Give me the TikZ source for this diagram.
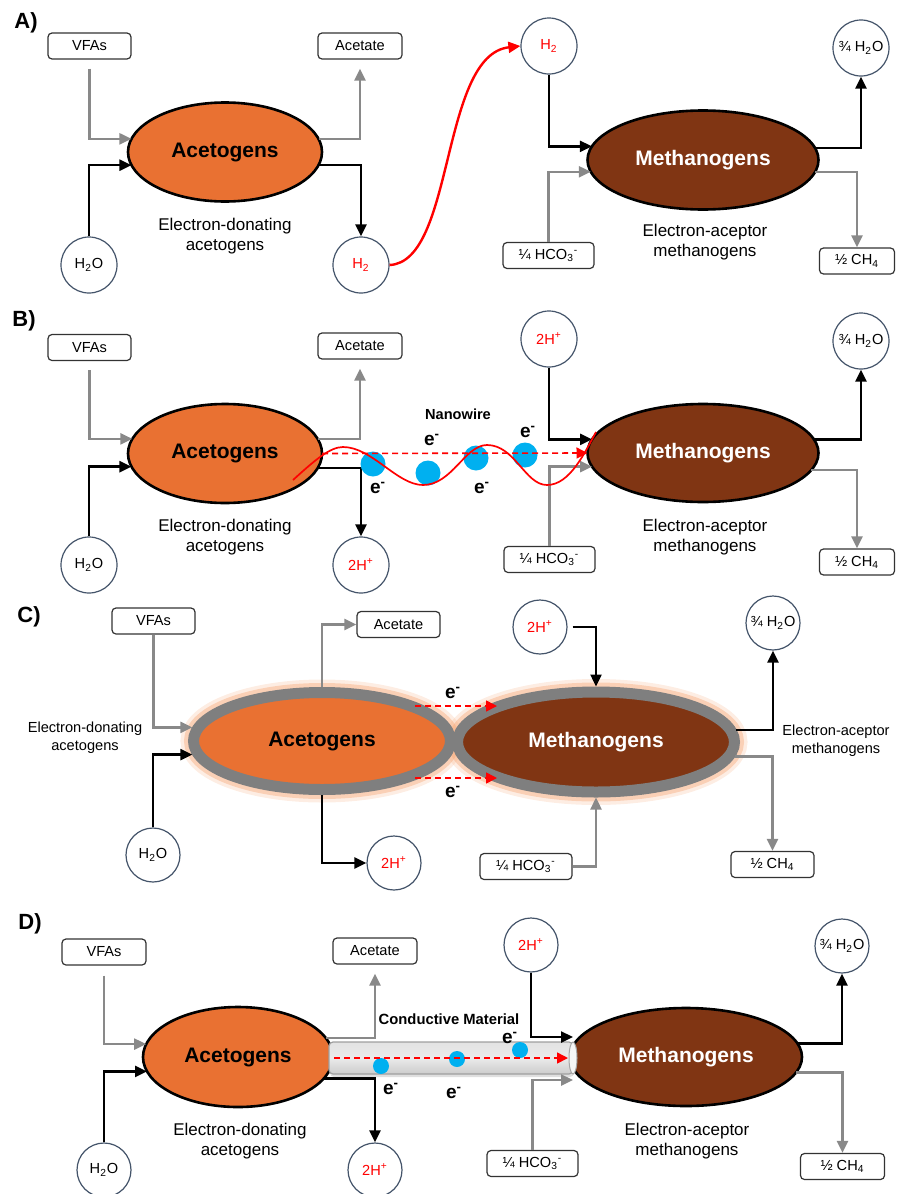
\documentclass[tikz,border=0pt]{standalone}
\usepackage{fontspec}
\setmainfont{Liberation Sans}
\usetikzlibrary{shapes.geometric,arrows.meta,calc,shadows}
\definecolor{acor}{RGB}{233,113,50}
\definecolor{mebr}{RGB}{128,53,19}
\definecolor{garr}{RGB}{137,137,137}
\definecolor{slate}{RGB}{68,84,106}
\definecolor{ecyan}{RGB}{0,176,240}
\definecolor{glowc}{RGB}{246,165,115}
\definecolor{ringc}{RGB}{127,127,127}
\tikzset{
 lbox/.style={draw=black!80, line width=0.6pt, rounded corners=2pt, minimum height=13pt, inner sep=0pt, font=\fontsize{7.3}{9}\selectfont, fill=white},
 circ/.style={circle, draw=slate, line width=0.6pt, minimum size=28pt, inner sep=0pt, font=\fontsize{7.3}{9}\selectfont, fill=white},
 ell/.style={ellipse, draw=black, line width=1.3pt, inner sep=0pt, outer sep=0pt, font=\bfseries\fontsize{10.5}{12}\selectfont},
 acet/.style={ell, fill=acor},
 meth/.style={ell, fill=mebr, text=white},
 acetC/.style={ell, draw=ringc, line width=5.5pt, outer sep=2.75pt, fill=acor},
 methC/.style={ell, draw=ringc, line width=5.5pt, outer sep=2.75pt, fill=mebr, text=white},
 barrow/.style={-{Triangle[length=6pt,width=5.5pt]}, line width=1.2pt, draw=black},
 garrow/.style={-{Triangle[length=6pt,width=5.5pt]}, line width=1.2pt, draw=garr},
 rdash/.style={-{Triangle[length=5.5pt,width=5.5pt]}, line width=0.8pt, draw=red, dash pattern=on 3pt off 2pt},
 rcurve/.style={-{Triangle[length=6pt,width=5.5pt]}, line width=1.2pt, draw=red},
 desc/.style={align=center, font=\fontsize{8.5}{10}\selectfont},
 descs/.style={align=center, font=\fontsize{7.3}{9}\selectfont},
 plabel/.style={font=\bfseries\fontsize{11}{13}\selectfont},
 elab/.style={font=\bfseries\fontsize{9.5}{10}\selectfont, inner sep=0pt},
 wlab/.style={font=\bfseries\fontsize{7.3}{9}\selectfont, inner sep=0pt},
 dot/.style={circle, fill=ecyan, minimum size=12.5pt, inner sep=0pt},
 sdot/.style={circle, fill=ecyan, minimum size=8pt, inner sep=0pt},
 tube/.style={rectangle, draw=gray!75, line width=0.6pt, rounded corners=2pt, top color=gray!22, bottom color=gray!40, middle color=gray!16, drop shadow={opacity=0.25, shadow xshift=0.5pt, shadow yshift=-1.5pt}},
}
\begin{document}
\begin{tikzpicture}[x=0.5pt,y=-0.5pt]
\useasboundingbox (0,0) rectangle (900,1194);

% ===================== Panel A =====================
\node[plabel] (lA) at (26,23) {A)};
\node[lbox, minimum width=41.5pt] (vfaA) at (89.5,46) {VFAs};
\node[lbox, minimum width=42pt] (actA) at (360,46) {Acetate};
\node[acet, minimum width=97pt, minimum height=49.5pt] (acA) at (225,152) {Acetogens};
\node[circ] (h2oA) at (89,265) {H\textsubscript{2}O};
\node[circ, text=red] (h2A) at (361,265) {H\textsubscript{2}};
\node[desc] (dA) at (225,236) {Electron-donating\\acetogens};
\node[circ, text=red] (h2tA) at (549,46) {H\textsubscript{2}};
\node[meth, minimum width=115.5pt, minimum height=49.5pt] (meA) at (703,160) {Methanogens};
\node[lbox, minimum width=45.5pt] (hcoA) at (548.5,255.5) {¼ HCO\textsubscript{3}\textsuperscript{-}};
\node[circ] (h2oRA) at (861,48) {¾ H\textsubscript{2}O};
\node[lbox, minimum width=37.5pt] (ch4A) at (857,261) {½ CH\textsubscript{4}};
\node[desc] (mA) at (705,242) {Electron-aceptor\\methanogens};

\draw[garrow, shorten <=4.5pt] (vfaA.south) |- (acA.172);
\draw[barrow] (h2oA.north) |- (acA.188);
\draw[garrow, shorten >=4.5pt] (acA.8) -| (actA.south);
\draw[barrow] (acA.-8) -| (h2A.north);
\draw[rcurve] (h2A.east) .. controls (455,262) and (440,55) .. (h2tA.west);
\draw[barrow] (h2tA.south) |- (meA.173.3);
\draw[garrow] (hcoA.north) |- (meA.186.7);
\draw[barrow] (meA.6.7) -| (h2oRA.south);
\draw[garrow] (meA.-6.7) -| (ch4A.north);

% ===================== Panel B =====================
\node[plabel] (lB) at (24,321) {B)};
\node[lbox, minimum width=41.5pt] (vfaB) at (89.5,347.5) {VFAs};
\node[lbox, minimum width=42pt] (actB) at (360,346) {Acetate};
\node[acet, minimum width=97pt, minimum height=49.5pt] (acB) at (225,453.5) {Acetogens};
\node[circ] (h2oB) at (89,565) {H\textsubscript{2}O};
\node[circ, text=red] (hpB) at (361,565) {2H\textsuperscript{+}};
\node[desc] (dB) at (225,537) {Electron-donating\\acetogens};
\node[circ, text=red] (hptB) at (549,339) {2H\textsuperscript{+}};
\node[meth, minimum width=115.5pt, minimum height=49pt] (meB) at (703,453) {Methanogens};
\node[lbox, minimum width=45.5pt] (hcoB) at (549.5,559.5) {¼ HCO\textsubscript{3}\textsuperscript{-}};
\node[circ] (h2oRB) at (861,341) {¾ H\textsubscript{2}O};
\node[lbox, minimum width=37.5pt] (ch4B) at (857,562) {½ CH\textsubscript{4}};
\node[desc] (mB) at (705,537) {Electron-aceptor\\methanogens};

\draw[garrow, shorten <=4.5pt] (vfaB.south) |- (acB.171);
\draw[barrow] (h2oB.north) |- (acB.188);
\draw[garrow, shorten >=4.5pt] (acB.9.5) -| (actB.south);
\draw[barrow] (acB.-9) -| (hpB.north);
\draw[barrow] (hptB.south) |- (meB.173.3);
\draw[garrow] (hcoB.north) |- (meB.187);
\draw[barrow] (meB.7.5) -| (h2oRB.south);
\draw[garrow] (meB.-9) -| (ch4B.north);

\node[dot] (b1) at (373,464) {};
\node[dot] (b2) at (428,473) {};
\node[dot] (b3) at (476,458) {};
\node[dot] (b4) at (525,455) {};
\draw[red, line width=0.85pt] (293,480) .. controls (315,460) and (330,447) .. (343,447)
  .. controls (372,447) and (397,485) .. (423,485)
  .. controls (452,485) and (465,445) .. (487,445)
  .. controls (515,445) and (525,485) .. (547,485)
  .. controls (570,485) and (585,452) .. (596,432);
\draw[rdash] (acB.east) -- (meB.west);
\node[wlab] (nw) at (458,414) {Nanowire};
\node[elab] (eb1) at (432,440) {e\textsuperscript{-}};
\node[elab] (eb2) at (528,432) {e\textsuperscript{-}};
\node[elab] (eb3) at (378,488) {e\textsuperscript{-}};
\node[elab] (eb4) at (482,488) {e\textsuperscript{-}};

% ===================== Panel C =====================
\node[plabel] (lC) at (29,617) {C)};
\node[lbox, minimum width=41.5pt] (vfaC) at (153.5,621) {VFAs};
\node[lbox, minimum width=41.5pt] (actC) at (398.5,624.5) {Acetate};
\draw[glowc, line width=13pt, opacity=0.2] (322,741) ellipse [x radius=64.25pt, y radius=24.25pt];
\draw[glowc, line width=9.5pt, opacity=0.4] (322,741) ellipse [x radius=64.25pt, y radius=24.25pt];
\draw[glowc, line width=13pt, opacity=0.2] (596,742) ellipse [x radius=69.25pt, y radius=25pt];
\draw[glowc, line width=9.5pt, opacity=0.4] (596,742) ellipse [x radius=69.25pt, y radius=25pt];
\node[acetC, minimum width=128.5pt, minimum height=48.5pt] (acC) at (322,741) {Acetogens};
\node[methC, minimum width=138.5pt, minimum height=50pt] (meC) at (596,742) {Methanogens};
\node[circ, minimum size=27pt] (h2oC) at (153,855) {H\textsubscript{2}O};
\node[circ, minimum size=27pt, text=red] (hpC) at (394,863) {2H\textsuperscript{+}};
\node[circ, minimum size=27pt, text=red] (hptC) at (540,627) {2H\textsuperscript{+}};
\node[circ, minimum size=27pt] (h2oRC) at (773,623) {¾ H\textsubscript{2}O};
\node[lbox, minimum width=41.5pt] (ch4C) at (772.5,864.5) {½ CH\textsubscript{4}};
\node[lbox, minimum width=46pt] (hcoC) at (526,866.5) {¼ HCO\textsubscript{3}\textsuperscript{-}};
\node[descs] (dC) at (85,737.5) {Electron-donating\\acetogens};
\node[descs] (mC) at (836,741) {Electron-aceptor\\methanogens};

\draw[garrow] (vfaC.south) |- (acC.174);
\draw[barrow] (h2oC.north) |- (acC.186);
\draw[garrow] (acC.north) |- (actC.west);
\draw[barrow] (acC.south) |- (hpC.west);
\draw[barrow, shorten <=2.5pt] (hptC.east) -| (meC.north);
\draw[garrow] (hcoC.east) -| (meC.south);
\draw[barrow] (meC.5.7) -| (h2oRC.south);
\draw[garrow] (meC.-6.6) -| (ch4C.north);
\coordinate (cu1) at (415,706);
\coordinate (cu2) at (497,706);
\coordinate (cl1) at (415,778);
\coordinate (cl2) at (497,778);
\draw[rdash] (cu1) -- (cu2);
\draw[rdash] (cl1) -- (cl2);
\node[elab] (ec1) at (453,693) {e\textsuperscript{-}};
\node[elab] (ec2) at (453,792) {e\textsuperscript{-}};

% ===================== Panel D =====================
\node[plabel] (lD) at (30,924) {D)};
\node[lbox, minimum width=42pt] (vfaD) at (104,952) {VFAs};
\node[lbox, minimum width=42pt] (actD) at (375,951) {Acetate};
\node[acet, minimum width=95pt, minimum height=50pt] (acD) at (238,1057) {Acetogens};
\node[circ, minimum size=27pt] (h2oD) at (104,1170) {H\textsubscript{2}O};
\node[circ, minimum size=27pt, text=red] (hpD) at (375,1170) {2H\textsuperscript{+}};
\node[desc] (dD) at (240,1141) {Electron-donating\\acetogens};
\node[circ, minimum size=27pt, text=red] (hptD) at (531,945) {2H\textsuperscript{+}};
\node[meth, minimum width=116pt, minimum height=49pt] (meD) at (686,1057) {Methanogens};
\node[lbox, minimum width=45.5pt] (hcoD) at (532.5,1163.5) {¼ HCO\textsubscript{3}\textsuperscript{-}};
\node[circ, minimum size=27pt] (h2oRD) at (842,946) {¾ H\textsubscript{2}O};
\node[lbox, minimum width=42pt] (ch4D) at (842.5,1166.5) {½ CH\textsubscript{4}};
\node[desc] (mD) at (687,1141) {Electron-aceptor\\methanogens};

\draw[garrow, shorten <=5pt] (vfaD.south) |- (acD.172);
\draw[barrow] (h2oD.north) |- (acD.189.4);
\draw[garrow, shorten >=4.5pt] (acD.12) -| (actD.south);
\draw[barrow] (acD.-14.5) -| (hpD.north);

\node[tube, minimum width=122pt, minimum height=16pt] (tb) at (451,1058) {};
\node[ellipse, draw=gray!70, fill=gray!8, minimum width=4pt, minimum height=16pt, inner sep=0pt, line width=0.5pt] (cap) at (573,1058) {};
\draw[barrow] (hptD.south) |- ($(cap.center)+(0,-21)$);
\draw[garrow] (hcoD.north) |- ($(cap.center)+(0,22)$);
\draw[barrow] (meD.7.2) -| (h2oRD.south);
\draw[garrow] (meD.-8.3) -| (ch4D.north);
\node[sdot] (d1) at (381,1066) {};
\node[sdot] (d2) at (457,1059) {};
\node[sdot] (d3) at (520,1050) {};
\draw[rdash] ($(tb.west)+(6,0)$) -- ($(cap.center)+(-5,0)$);
\node[wlab, font=\bfseries\fontsize{7.4}{9}\selectfont] (cm) at (449,1019) {Conductive Material};
\node[elab] (ed1) at (391,1089) {e\textsuperscript{-}};
\node[elab] (ed2) at (454,1093) {e\textsuperscript{-}};
\node[elab] (ed3) at (510,1038) {e\textsuperscript{-}};
\end{tikzpicture}
\end{document}
